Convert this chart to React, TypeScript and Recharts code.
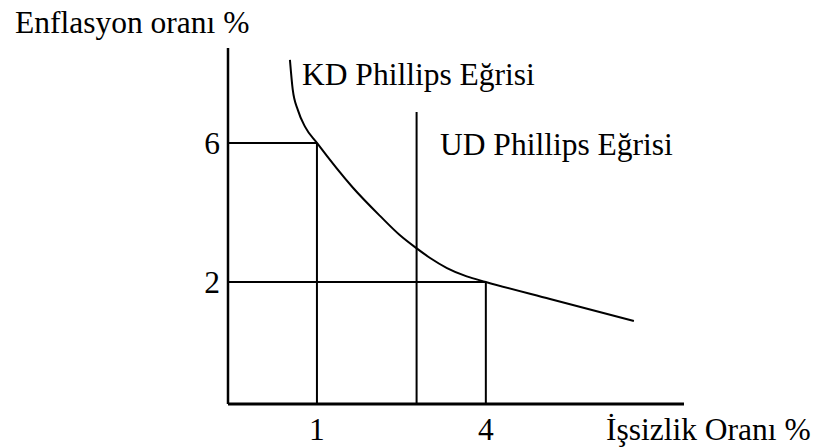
import { LineChart, Line, XAxis, YAxis } from "recharts";

// axis extents in chart units (origin sits below/left of the ticks)
const X_DOMAIN: [number, number] = [-0.58, 7.52];
const Y_DOMAIN: [number, number] = [-1.51, 8.73];

const xTicks = [1, 4];
const yTicks = [2, 6];

// short-run Phillips curve
const kdX = [0.52, 0.57, 0.66, 0.79, 1.0, 1.64, 2.12, 2.47, 2.76, 3.01, 3.31, 3.66, 4.0, 5.14, 6.63];
const kdY = [8.39, 7.53, 6.95, 6.46, 6.0, 4.71, 3.9, 3.35, 2.98, 2.69, 2.4, 2.16, 2.0, 1.51, 0.88];

// long-run Phillips curve (vertical)
const udX = 2.77;
const udTop = 6.89;

// the two marked points
const markX = [1, 4];
const markY = [6, 2];

const FONT = "'Liberation Serif', 'Times New Roman', serif";
const INK = "#000";

const kdData = kdX.map((x, i) => ({ x, y: kdY[i] }));
const udData = [
  { x: udX, y: Y_DOMAIN[0] },
  { x: udX, y: udTop },
];
const guides = markX.map((mx, i) => ({
  h: [
    { x: X_DOMAIN[0], y: markY[i] },
    { x: mx, y: markY[i] },
  ],
  v: [
    { x: mx, y: Y_DOMAIN[0] },
    { x: mx, y: markY[i] },
  ],
}));

const tickStyle = { fill: INK, fontSize: 31.5, fontFamily: FONT };
const textStyle = { fontFamily: FONT, fontSize: 31.5, fill: INK };

export default function App() {
  return (
    <div
      style={{
        position: "absolute",
        left: 0,
        top: 0,
        width: 818,
        height: 447,
        background: "#fff",
      }}
    >
      <LineChart
        width={818}
        height={447}
        margin={{ top: 48, right: 134, bottom: 13, left: 188 }}
      >
        <XAxis
          type="number"
          dataKey="x"
          domain={X_DOMAIN}
          allowDataOverflow
          ticks={xTicks}
          tickLine={false}
          tickSize={0}
          tickMargin={14}
          height={30}
          tick={tickStyle}
          axisLine={{ stroke: INK, strokeWidth: 3 }}
        />
        <YAxis
          type="number"
          dataKey="y"
          domain={Y_DOMAIN}
          allowDataOverflow
          ticks={yTicks}
          tickLine={false}
          tickSize={0}
          tickMargin={8}
          width={40}
          tick={tickStyle}
          axisLine={{ stroke: INK, strokeWidth: 2.5 }}
        />
        {guides.map((g, i) => (
          <Line
            key={`h${i}`}
            data={g.h}
            dataKey="y"
            stroke={INK}
            strokeWidth={2}
            dot={false}
            activeDot={false}
            isAnimationActive={false}
          />
        ))}
        {guides.map((g, i) => (
          <Line
            key={`v${i}`}
            data={g.v}
            dataKey="y"
            stroke={INK}
            strokeWidth={2}
            dot={false}
            activeDot={false}
            isAnimationActive={false}
          />
        ))}
        <Line
          data={udData}
          dataKey="y"
          stroke={INK}
          strokeWidth={2}
          dot={false}
          activeDot={false}
          isAnimationActive={false}
        />
        <Line
          data={kdData}
          dataKey="y"
          type="monotone"
          stroke={INK}
          strokeWidth={2}
          dot={false}
          activeDot={false}
          isAnimationActive={false}
        />
      </LineChart>
      <svg
        width={818}
        height={447}
        style={{ position: "absolute", left: 0, top: 0, pointerEvents: "none" }}
      >
        <text x={15} y={33} style={textStyle}>Enflasyon oranı %</text>
        <text x={302} y={85} style={textStyle}>KD Phillips Eğrisi</text>
        <text x={440} y={155} style={textStyle}>UD Phillips Eğrisi</text>
        <text x={606} y={440} style={textStyle}>İşsizlik Oranı %</text>
      </svg>
    </div>
  );
}
